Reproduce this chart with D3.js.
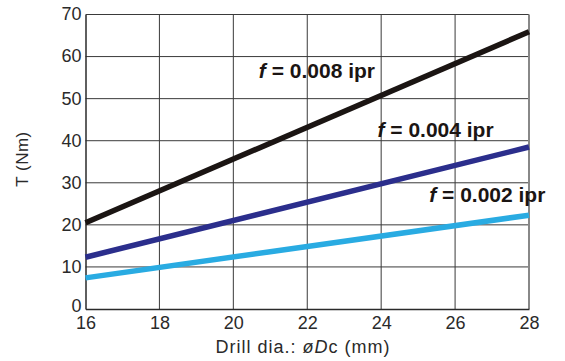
<!DOCTYPE html>
<html><head><meta charset="utf-8">
<script src="https://cdn.jsdelivr.net/npm/d3@7"></script>
<style>body{margin:0;background:#fff}svg{display:block}</style>
</head><body>
<svg id="c" width="565" height="361"></svg>
<script>
const xTicks = [16, 18, 20, 22, 24, 26, 28];
const yTicks = [0, 10, 20, 30, 40, 50, 60, 70];
const seriesNames = ["f = 0.008 ipr", "f = 0.004 ipr", "f = 0.002 ipr"];
const diameters = [16, 28];
const torque008 = [20.5, 65.9];
const torque004 = [12.3, 38.5];
const torque002 = [7.4, 22.3];
const colors = ["#1b1513", "#2b2e8c", "#29abe2"];
const labelAnchor = [[20.69, 54.9], [23.9, 40.9], [25.3, 25.4]];

const svg = d3.select("#c");
const m = {l: 85.5, r: 529, t: 14.5, b: 309};
const x = d3.scaleLinear().domain([16, 28]).range([m.l, m.r]);
const y = d3.scaleLinear().domain([0, 70]).range([m.b, m.t]);
const font = "'Liberation Sans', Arial, Helvetica, sans-serif";

// grid
const g = svg.append("g");
g.selectAll(".vx").data(xTicks.slice(1, -1)).join("line")
  .attr("x1", d => x(d)).attr("x2", d => x(d)).attr("y1", m.t).attr("y2", m.b)
  .attr("stroke", "#3a3a3a").attr("stroke-width", 1);
g.selectAll(".hy").data(yTicks.slice(1)).join("line")
  .attr("x1", m.l).attr("x2", m.r).attr("y1", d => y(d)).attr("y2", d => y(d))
  .attr("stroke", "#3a3a3a").attr("stroke-width", 1);
// right border
g.append("line").attr("x1", m.r).attr("x2", m.r).attr("y1", m.t).attr("y2", m.b)
  .attr("stroke", "#888").attr("stroke-width", 2);

// axes
const xAxis = d3.axisBottom(x).tickValues(xTicks).tickSize(0).tickPadding(7);
const yAxis = d3.axisLeft(y).tickValues(yTicks).tickSize(0).tickPadding(4);
const ax = svg.append("g").attr("transform", `translate(0,${m.b})`).call(xAxis);
const ay = svg.append("g").attr("transform", `translate(${m.l},0)`).call(yAxis);
[ax, ay].forEach(a => {
  a.select(".domain").attr("stroke", "#2a2a2a").attr("stroke-width", 1.5);
  a.selectAll("text").attr("font-family", font).attr("font-size", 18).attr("fill", "#2a2a2a");
});
ay.selectAll("text").attr("dy", d => d === 0 ? "0.12em" : "0.3em");

// lines
const series = [torque008, torque004, torque002];
const line = d3.line().x(d => x(d[0])).y(d => y(d[1]));
svg.selectAll(".ln").data(series).join("path")
  .attr("d", s => line(diameters.map((d, i) => [d, s[i]])))
  .attr("fill", "none").attr("stroke", (d, i) => colors[i]).attr("stroke-width", 5.5);

// labels
seriesNames.forEach((nm, i) => {
  const t = svg.append("text").attr("x", x(labelAnchor[i][0])).attr("y", y(labelAnchor[i][1]))
    .attr("font-family", font).attr("font-size", 21).attr("font-weight", "bold").attr("fill", "#1b1513");
  t.append("tspan").attr("font-style", "italic").text(nm.slice(0, 1));
  t.append("tspan").text(nm.slice(1));
});

// axis titles
svg.append("text").attr("transform", "translate(28,159) rotate(-90)")
  .attr("text-anchor", "middle").attr("font-family", font).attr("font-size", 17).attr("fill", "#2a2a2a")
  .attr("letter-spacing", 0.5)
  .text("T (Nm)");
const xt = svg.append("text").attr("x", 303).attr("y", 353).attr("text-anchor", "middle")
  .attr("font-family", font).attr("font-size", 18).attr("fill", "#2a2a2a").attr("letter-spacing", 1);
xt.append("tspan").text("Drill dia.: ");
xt.append("tspan").attr("font-style", "italic").text("øD");
xt.append("tspan").text("c (mm)");
</script>
</body></html>
